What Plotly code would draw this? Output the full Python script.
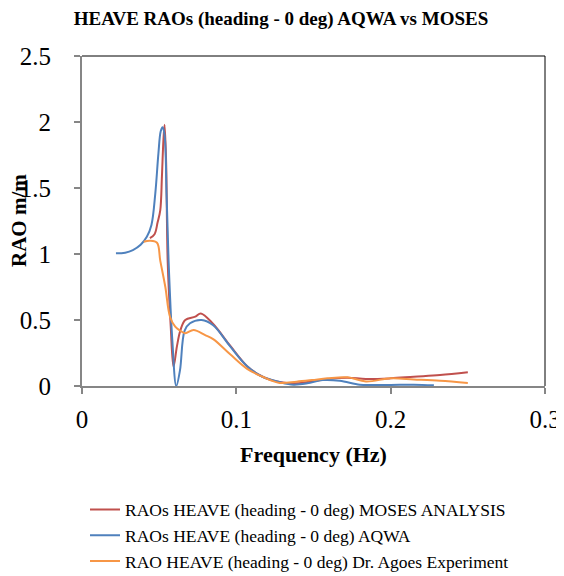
import plotly.graph_objects as go

# Frequências (Hz) e RAOs
freq_moses = [0.044, 0.047, 0.049, 0.0507, 0.0518, 0.0527, 0.0535, 0.0545, 0.0555, 0.0575, 0.0593,
              0.0615, 0.0637, 0.0669, 0.0734, 0.077, 0.085, 0.096, 0.107, 0.117, 0.128, 0.139,
              0.149, 0.159, 0.172, 0.184, 0.200, 0.215, 0.232, 0.250]
rao_moses = [1.12, 1.15, 1.24, 1.33, 1.59, 1.85, 1.98, 1.70, 0.95, 0.45, 0.146,
             0.30, 0.42, 0.50, 0.525, 0.55, 0.47, 0.305, 0.15, 0.07, 0.03, 0.02,
             0.035, 0.053, 0.063, 0.053, 0.058, 0.07, 0.083, 0.104]

freq_aqwa = [0.022, 0.028, 0.033, 0.038, 0.042, 0.045, 0.0475, 0.0495, 0.051, 0.0522, 0.0535,
             0.0548, 0.0561, 0.0585, 0.0611, 0.0635, 0.0665, 0.070, 0.0775, 0.085, 0.096, 0.107,
             0.117, 0.128, 0.137, 0.146, 0.156, 0.167, 0.180, 0.190, 0.200, 0.215, 0.228]
rao_aqwa = [1.005, 1.01, 1.03, 1.07, 1.13, 1.22, 1.46, 1.76, 1.93, 1.96, 1.90,
            1.45, 0.95, 0.35, 0.0, 0.12, 0.42, 0.475, 0.50, 0.46, 0.30, 0.15,
            0.07, 0.03, 0.01, 0.02, 0.045, 0.04, 0.01, 0.008, 0.008, 0.01, 0.005]

freq_exp = [0.040, 0.044, 0.0486, 0.0507, 0.054, 0.057, 0.0604, 0.0635, 0.0669, 0.0723, 0.0798,
            0.085, 0.096, 0.107, 0.117, 0.128, 0.139, 0.149, 0.159, 0.172, 0.184, 0.200,
            0.215, 0.232, 0.250]
rao_exp = [1.093, 1.10, 1.085, 0.95, 0.75, 0.525, 0.45, 0.42, 0.40, 0.425, 0.386,
           0.355, 0.24, 0.13, 0.07, 0.023, 0.033, 0.045, 0.058, 0.066, 0.035, 0.058,
           0.05, 0.04, 0.023]

serif = "Liberation Serif"
grey = "#868686"

fig = go.Figure()
fig.add_trace(go.Scatter(x=freq_moses, y=rao_moses, mode="lines", line_shape="spline",
                         line=dict(color="#C0504D", width=2),
                         name="RAOs HEAVE (heading - 0 deg) MOSES ANALYSIS"))
fig.add_trace(go.Scatter(x=freq_aqwa, y=rao_aqwa, mode="lines", line_shape="spline",
                         line=dict(color="#4F81BD", width=2),
                         name="RAOs HEAVE (heading - 0 deg) AQWA"))
fig.add_trace(go.Scatter(x=freq_exp, y=rao_exp, mode="lines", line_shape="spline",
                         line=dict(color="#F79646", width=2),
                         name="RAO HEAVE (heading - 0 deg) Dr. Agoes Experiment"))

# Borda superior e direita em preto
fig.add_shape(type="line", xref="paper", yref="paper", x0=0, x1=1, y0=1, y1=1,
              line=dict(color="black", width=1))
fig.add_shape(type="line", xref="paper", yref="paper", x0=1, x1=1, y0=0, y1=1,
              line=dict(color="black", width=1))

# Título do eixo Y como anotação (posição fina)
fig.add_annotation(text="<b>RAO m/m</b>", xref="paper", yref="paper", x=-0.136, y=0.5,
                   textangle=-90, showarrow=False, xanchor="center", yanchor="middle",
                   font=dict(size=21, family=serif, color="black"))

# A página tem margem de 8px, então a figura é um pouco menor que a janela
fig.update_layout(
  width=556, height=568,
  margin=dict(l=74, r=19, t=48, b=190, autoexpand=False),
  paper_bgcolor="white", plot_bgcolor="white",
  font=dict(family=serif, color="black"),
  title=dict(text="<b>HEAVE RAOs (heading - 0 deg) AQWA vs MOSES</b>",
             x=0.491, xanchor="center", y=0.982, yanchor="middle",
             font=dict(size=19, family=serif)),
  showlegend=True,
  legend=dict(x=0.0065, y=-0.32, xanchor="left", yanchor="top",
              font=dict(size=17.5, family=serif), bgcolor="rgba(0,0,0,0)"),
)
fig.update_xaxes(range=[0, 0.3], tickvals=[0, 0.1, 0.2, 0.3],
                 ticktext=["0", "0.1", "0.2", "0.3"], automargin=False,
                 showgrid=False, zeroline=False, showline=True, linecolor=grey, linewidth=2,
                 ticks="outside", ticklen=6, tickcolor=grey, tickwidth=2,
                 ticklabelstandoff=4, tickfont=dict(size=25, family=serif),
                 title=dict(text="<b>Frequency (Hz)</b>", font=dict(size=22, family=serif), standoff=15))
fig.update_yaxes(range=[0, 2.5], tickvals=[0, 0.5, 1, 1.5, 2, 2.5],
                 ticktext=["0", "0.5", "1", "1.5", "2", "2.5"], automargin=False,
                 showgrid=False, zeroline=False, showline=True, linecolor=grey, linewidth=2,
                 ticks="outside", ticklen=6, tickcolor=grey, tickwidth=2,
                 ticklabelstandoff=18, tickfont=dict(size=25, family=serif))

fig.write_html("out.html")
